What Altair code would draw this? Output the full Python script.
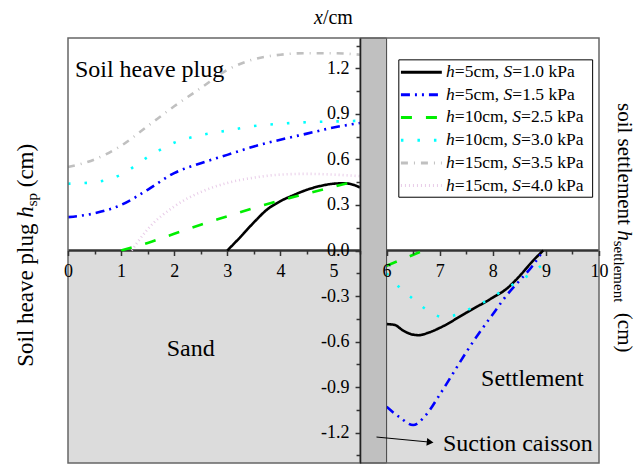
import altair as alt
import pandas as pd

FONT = "Liberation Serif"

# ---------------- data ----------------
series_ids = ["s1", "s2", "s3", "s4", "s5", "s6"]
legend_h = ["5cm", "5cm", "10cm", "10cm", "15cm", "15cm"]
legend_S = ["1.0", "1.5", "2.5", "3.0", "3.5", "4.0"]
colors = ["#000000", "#0000ff", "#00ee00", "#00ffff", "#c0c0c0", "#e8cce8"]
dashes = [[1, 0], [9, 5, 2, 5, 2, 5], [11, 14], [2.5, 14], [7, 6, 1, 6], [1, 3]]
widths = [2.6, 2.6, 2.6, 2.6, 2.6, 1.8]

# left side (soil heave plug, x <= 5.5)
s1_left_x = [3.0, 3.25, 3.5, 3.75, 4.0, 4.25, 4.5, 4.75, 5.0, 5.2, 5.4, 5.5]
s1_left_y = [0.0, 0.09, 0.185, 0.27, 0.325, 0.365, 0.40, 0.425, 0.44, 0.443, 0.43, 0.415]
s2_left_x = [0, 0.5, 1, 1.5, 2, 2.5, 3, 3.5, 4, 4.5, 5, 5.5]
s2_left_y = [0.22, 0.245, 0.30, 0.40, 0.51, 0.575, 0.63, 0.685, 0.73, 0.77, 0.81, 0.84]
s3_left_x = [1.0, 1.5, 2, 2.5, 3, 3.5, 4, 4.5, 5, 5.5]
s3_left_y = [0.0, 0.05, 0.11, 0.17, 0.225, 0.28, 0.33, 0.375, 0.42, 0.465]
s4_left_x = [0, 0.5, 1, 1.5, 2, 2.5, 3, 3.5, 4, 4.5, 5, 5.5]
s4_left_y = [0.44, 0.45, 0.50, 0.615, 0.71, 0.76, 0.79, 0.82, 0.835, 0.845, 0.85, 0.855]
s5_left_x = [0, 0.5, 1, 1.5, 2, 2.5, 3, 3.5, 4, 4.5, 5, 5.5]
s5_left_y = [0.55, 0.60, 0.69, 0.82, 0.95, 1.07, 1.19, 1.26, 1.29, 1.30, 1.30, 1.29]
s6_left_x = [1.2, 1.3, 1.5, 2, 2.5, 3, 3.5, 4, 4.5, 5, 5.5]
s6_left_y = [0.0, 0.05, 0.14, 0.29, 0.385, 0.445, 0.48, 0.50, 0.505, 0.50, 0.49]

# right side (settlement, x >= 6)
s1_right_x = [6.0, 6.15, 6.3, 6.45, 6.6, 6.8, 7.0, 7.5, 8.0, 8.25, 8.5, 8.75, 8.95]
s1_right_y = [-0.485, -0.49, -0.525, -0.55, -0.558, -0.54, -0.51, -0.41, -0.31, -0.255, -0.17, -0.07, 0.0]
s2_right_x = [6.0, 6.25, 6.5, 6.75, 7.0, 7.25, 7.5, 7.75, 8.0, 8.25, 8.5, 8.75, 8.95]
s2_right_y = [-1.03, -1.10, -1.15, -1.08, -0.95, -0.81, -0.67, -0.54, -0.42, -0.30, -0.20, -0.10, 0.0]
s3_right_x = [6.0, 6.35, 6.7]
s3_right_y = [-0.10, -0.05, 0.0]
s4_right_x = [6.0, 6.25, 6.5, 6.75, 7.0, 7.1, 7.25, 7.5, 7.75, 8.0, 8.25, 8.5, 8.75, 9.0, 9.1]
s4_right_y = [-0.15, -0.245, -0.32, -0.39, -0.435, -0.44, -0.43, -0.395, -0.355, -0.305, -0.25, -0.20, -0.145, -0.075, -0.05]

curves = {
    "s1": [(s1_left_x, s1_left_y), (s1_right_x, s1_right_y)],
    "s2": [(s2_left_x, s2_left_y), (s2_right_x, s2_right_y)],
    "s3": [(s3_left_x, s3_left_y), (s3_right_x, s3_right_y)],
    "s4": [(s4_left_x, s4_left_y), (s4_right_x, s4_right_y)],
    "s5": [(s5_left_x, s5_left_y)],
    "s6": [(s6_left_x, s6_left_y)],
}

x_ticks = [i * 0.5 for i in range(21)]
y_ticks = [round(-1.35 + 0.15 * i, 2) for i in range(19)]

# ---------------- layout ----------------
W, H = 531, 425
XD = [0, 10]
YD = [-1.4, 1.4]
PXU = W / (XD[1] - XD[0])

rows = []
for sid in series_ids:
    for k, (xs, ys) in enumerate(curves[sid]):
        for i, (xv, yv) in enumerate(zip(xs, ys)):
            rows.append({"series": sid, "seg": f"{sid}-{k}", "x": xv, "y": yv, "o": i})
lines_df = pd.DataFrame(rows)

XS = alt.Scale(domain=XD, nice=False, zero=False)
YS = alt.Scale(domain=YD, nice=False, zero=False)

XAXIS = alt.Axis(
    values=x_ticks, orient="bottom", offset=-H / 2, domain=False, grid=False,
    labelExpr="datum.value % 1 == 0 ? format(datum.value, 'd') : ''",
    tickColor="#333", tickWidth=1.5,
    tickSize={"condition": {"test": "datum.value % 1 == 0", "value": 5}, "value": 3.5},
    labelFont=FONT, labelFontSize=18, labelColor="black", labelPadding=7,
    labelFlush=False, labelOverlap=False, title=None, zindex=1,
)
YAXIS = alt.Axis(
    values=y_ticks, orient="left", offset=-(5.5 * PXU), grid=False,
    domain=True, domainColor="#222", domainWidth=1.5,
    labelExpr="abs(datum.value*10/3 - round(datum.value*10/3)) < 0.01 ? (datum.value < -0.001 ? '-' : '') + format(abs(datum.value), '.1f') : ''",
    tickColor="#333", tickWidth=1.5,
    tickSize={"condition": {"test": "abs(datum.value*10/3 - round(datum.value*10/3)) < 0.01", "value": 5}, "value": 4},
    labelFont=FONT, labelFontSize=18, labelColor="black", labelPadding=6,
    labelFlush=False, labelOverlap=False, title=None, zindex=1,
)


def X(f):
    return alt.X(f, type="quantitative", scale=XS, axis=XAXIS)


def Y(f):
    return alt.Y(f, type="quantitative", scale=YS, axis=YAXIS)


color_enc = alt.Color("series:N", scale=alt.Scale(domain=series_ids, range=colors), legend=None)
dash_enc = alt.StrokeDash("series:N", scale=alt.Scale(domain=series_ids, range=dashes), legend=None)
width_enc = alt.StrokeWidth("series:N", scale=alt.Scale(domain=series_ids, range=widths), legend=None)

# lower soil region
ground = alt.Chart(pd.DataFrame({"x0": [XD[0]], "x1": [XD[1]], "y0": [YD[0]], "y1": [0]})).mark_rect(
    fill="#dcdcdc").encode(x=X("x0"), x2="x1", y=Y("y0"), y2="y1")

zero_line = alt.Chart(pd.DataFrame({"x0": [XD[0]], "x1": [XD[1]], "y0": [0]})).mark_rule(
    color="#333", strokeWidth=2.5).encode(x=X("x0"), x2="x1", y=Y("y0"))

lines = alt.Chart(lines_df).mark_line(interpolate="monotone").encode(
    x=X("x"), y=Y("y"), color=color_enc, strokeDash=dash_enc, strokeWidth=width_enc,
    detail="seg:N", order="o:Q")

caisson = alt.Chart(pd.DataFrame({"x0": [5.5], "x1": [6.0], "y0": [YD[0]], "y1": [YD[1]]})).mark_rect(
    fill="#c0c0c0", stroke="#444", strokeWidth=1).encode(x=X("x0"), x2="x1", y=Y("y0"), y2="y1")

border = alt.Chart(pd.DataFrame({"x0": [XD[0]], "x1": [XD[1]], "y0": [YD[0]], "y1": [YD[1]]})).mark_rect(
    fillOpacity=0, stroke="#666", strokeWidth=1.5).encode(x=X("x0"), x2="x1", y=Y("y0"), y2="y1")

# annotations (data coordinates)
ann_text = ["Soil heave plug", "Sand", "Settlement", "Suction caisson"]
ann_x = [0.13, 1.86, 7.78, 7.06]
ann_y = [1.142, -0.695, -0.893, -1.323]
annotations = alt.Chart(pd.DataFrame({"t": ann_text, "x": ann_x, "y": ann_y})).mark_text(
    font=FONT, fontSize=24, align="left", baseline="alphabetic", color="black").encode(
    x=X("x"), y=Y("y"), text="t:N")

arrow_line = alt.Chart(pd.DataFrame({"x0": [5.81], "x1": [6.80], "y0": [-1.229], "y1": [-1.262]})).mark_rule(
    color="black", strokeWidth=1).encode(x=X("x0"), x2="x1", y=Y("y0"), y2="y1")
arrow_head = alt.Chart(pd.DataFrame({"x": [6.82], "y": [-1.263]})).mark_point(
    shape="triangle-right", filled=True, color="black", size=60, angle=6, opacity=1).encode(
    x=X("x"), y=Y("y"))

# ---- legend (manual, for italic h and S) ----
TNR = {' ': 250, '(': 333, ')': 333, ',': 250, '.': 250, '/': 278, '=': 564, 'P': 556, 'S': 556,
       'a': 444, 'c': 444, 'd': 500, 'e': 444, 'g': 500, 'h': 500, 'i': 278, 'k': 500, 'l': 278,
       'm': 778, 'n': 500, 'o': 500, 'p': 500, 's': 389, 't': 278, 'u': 500, 'v': 500}
TNRI = {'h': 500, 'S': 500, 'x': 444}


def tw(s, size, italic=False):
    tot = 0
    for c in s:
        if italic and c in TNRI:
            tot += TNRI[c]
        else:
            tot += TNR.get(c, 500)
    return tot * size / 1000.0


LEG_FS = 17.5
leg_y = [1.175, 1.026, 0.877, 0.727, 0.577, 0.428]
leg_box = alt.Chart(pd.DataFrame({"x0": [6.23], "x1": [9.88], "y0": [0.351], "y1": [1.256]})).mark_rect(
    fill="white", stroke="black", strokeWidth=1).encode(x=X("x0"), x2="x1", y=Y("y0"), y2="y1")
leg_lines = alt.Chart(pd.DataFrame({"series": series_ids, "x0": [6.27] * 6, "x1": [7.04] * 6, "y": leg_y})).mark_rule(
    strokeWidth=3).encode(x=X("x0"), x2="x1", y=Y("y"), color=color_enc, strokeDash=dash_enc)

it_rows, rm_rows = [], []
x_h = 7.12
for hv, sv, yv in zip(legend_h, legend_S, leg_y):
    p1 = "=" + hv + ","
    p2 = "=" + sv + " kPa"
    xh = x_h
    x1 = xh + tw("h", LEG_FS, True) / PXU
    xS = x1 + (tw(p1, LEG_FS) + tw(" ", LEG_FS)) / PXU
    x2 = xS + tw("S", LEG_FS, True) / PXU
    it_rows += [{"t": "h", "x": xh, "y": yv}, {"t": "S", "x": xS, "y": yv}]
    rm_rows += [{"t": p1, "x": x1, "y": yv}, {"t": p2, "x": x2, "y": yv}]
leg_it = alt.Chart(pd.DataFrame(it_rows)).mark_text(
    font=FONT, fontSize=LEG_FS, fontStyle="italic", align="left", baseline="middle", color="black").encode(
    x=X("x"), y=Y("y"), text="t:N")
leg_rm = alt.Chart(pd.DataFrame(rm_rows)).mark_text(
    font=FONT, fontSize=LEG_FS, align="left", baseline="middle", color="black").encode(
    x=X("x"), y=Y("y"), text="t:N")


# ---- titles (pixel positions relative to plot area) ----
def ptext(t, x, y, size, italic=False, angle=0, align="left", baseline="alphabetic"):
    kw = dict(text=t, font=FONT, fontSize=size, align=align, baseline=baseline, color="black")
    if italic:
        kw["fontStyle"] = "italic"
    if angle:
        kw["angle"] = angle
    return alt.Chart(pd.DataFrame({"a": [0]})).mark_text(**kw).encode(x=alt.value(x), y=alt.value(y))


TFS = 20
tx0 = W / 2 - (tw("x", TFS, True) + tw("/cm", TFS)) / 2
titles = [
    ptext("x", tx0, -14, TFS, italic=True),
    ptext("/cm", tx0 + tw("x", TFS, True), -14, TFS),
]
# left title (rotated, reading bottom -> top)
LFS, LSUB = 23, 15
ly = 328.7
lx = -35
titles += [ptext("Soil heave plug", lx, ly, LFS, angle=270)]
ly_h = ly - tw("Soil heave plug ", LFS)
titles += [ptext("h", lx, ly_h, LFS, italic=True, angle=270)]
ly_s = ly_h - tw("h", LFS, True)
titles += [ptext("sp", lx + 4, ly_s, LSUB, angle=270)]
ly_c = ly_s - tw("sp", LSUB) - tw(" ", LFS)
titles += [ptext("(cm)", lx, ly_c, LFS, angle=270)]
# right title (rotated, reading top -> bottom)
RFS, RSUB = 21, 15
ry = 65
rx = 550
titles += [ptext("soil settlement", rx, ry, RFS, angle=90)]
ry_h = ry + tw("soil settlement ", RFS)
titles += [ptext("h", rx, ry_h, RFS, italic=True, angle=90)]
ry_s = ry_h + tw("h", RFS, True)
titles += [ptext("settlement", rx - 4, ry_s, RSUB, angle=90)]
ry_c = ry_s + tw("settlement", RSUB) + 2 * tw(" ", RFS)
titles += [ptext("(cm)", rx, ry_c, RFS, angle=90)]

chart = alt.layer(
    ground, zero_line, lines, caisson, border, annotations, arrow_line, arrow_head,
    leg_box, leg_lines, leg_it, leg_rm, *titles
).properties(
    width=W, height=H,
    autosize=alt.AutoSizeParams(type="none"),
    padding={"left": 68, "top": 38, "right": 37, "bottom": 1},
    background="white",
).configure_view(strokeWidth=0)

chart.save("out.html", embed_options={"renderer": "svg", "actions": False})
